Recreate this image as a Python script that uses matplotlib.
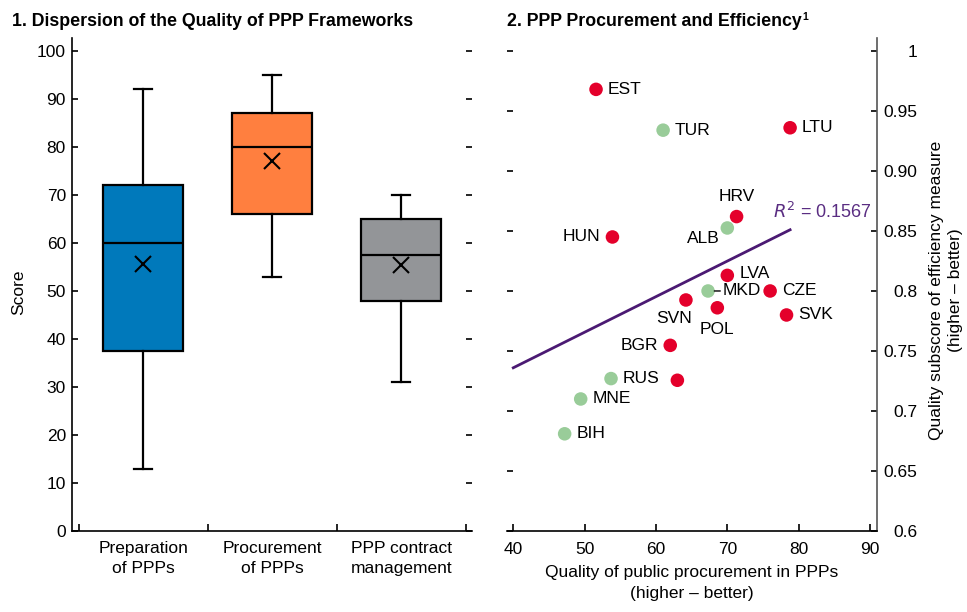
import matplotlib
matplotlib.use("Agg")
import matplotlib.pyplot as plt

plt.rcParams['font.family'] = ['Liberation Sans', 'DejaVu Sans']

# ---------------- data ----------------
box_labels = ["Preparation\nof PPPs", "Procurement\nof PPPs", "PPP contract\nmanagement"]
box_whislo = [13, 53, 31]
box_q1 = [37.5, 66, 48]
box_med = [60, 80, 57.5]
box_q3 = [72, 87, 65]
box_whishi = [92, 95, 70]
box_mean = [55.7, 77, 55.4]
box_colors = ["#0079BB", "#FF7F3F", "#939598"]
left_yticks = [0, 10, 20, 30, 40, 50, 60, 70, 80, 90, 100]

countries = ["EST", "TUR", "LTU", "HRV", "ALB", "HUN", "LVA", "MKD", "CZE",
             "SVN", "POL", "SVK", "BGR", "RUS", "", "MNE", "BIH"]
proc_x = [51.6, 61.0, 78.8, 71.3, 70.0, 53.9, 70.0, 67.3, 76.0,
          64.2, 68.6, 78.3, 62.0, 53.7, 63.0, 49.45, 47.2]
eff_y = [0.968, 0.934, 0.936, 0.862, 0.8525, 0.845, 0.813, 0.800, 0.800,
         0.7925, 0.786, 0.780, 0.7547, 0.727, 0.7256, 0.710, 0.681]
group = ["eu", "non", "eu", "eu", "non", "eu", "eu", "non", "eu",
         "eu", "eu", "eu", "eu", "non", "eu", "non", "non"]
trend_x = [40, 78.8]
trend_y = [0.736, 0.851]
r2_text = "0.1567"
right_xticks = [40, 50, 60, 70, 80, 90]
right_yticks = [0.6, 0.65, 0.7, 0.75, 0.8, 0.85, 0.9, 0.95, 1.0]
right_yticklabels = ["0.6", "0.65", "0.7", "0.75", "0.8", "0.85", "0.90", "0.95", "1"]

# label placement (offset in pixels, alignment)
label_pos = {
    "EST": (12, 0, "left", "center"),
    "TUR": (12, 0, "left", "center"),
    "LTU": (12, 0, "left", "center"),
    "HRV": (0, 20, "center", "center"),
    "ALB": (-8, -11, "right", "center"),
    "HUN": (-12, 0, "right", "center"),
    "LVA": (12, 2, "left", "center"),
    "MKD": (15, 0, "left", "center"),
    "CZE": (12, 0, "left", "center"),
    "SVN": (-12, -19, "center", "center"),
    "POL": (0, -22, "center", "center"),
    "SVK": (12, 0, "left", "center"),
    "BGR": (-12, 0, "right", "center"),
    "RUS": (12, 0, "left", "center"),
    "MNE": (12, 0, "left", "center"),
    "BIH": (12, 0, "left", "center"),
}

W, H = 967, 612
fig = plt.figure(figsize=(W / 100, H / 100), dpi=100)

def fx(px):
    return px / W

def fy(py):
    return 1 - py / H

top_px, bot_px = 38, 531
ax1 = fig.add_axes([fx(71.5), fy(bot_px), fx(472 - 71.5), (bot_px - top_px) / H])
ax2 = fig.add_axes([fx(507), fy(bot_px), fx(877 - 507), (bot_px - top_px) / H])

FS = 12.5
# ---------------- left panel ----------------
stats = []
for i in range(3):
    stats.append(dict(med=box_med[i], q1=box_q1[i], q3=box_q3[i],
                      whislo=box_whislo[i], whishi=box_whishi[i],
                      mean=box_mean[i], fliers=[], label=box_labels[i]))
bp = ax1.bxp(stats, positions=[0, 1, 2], widths=0.62, capwidths=0.14,
             patch_artist=True, showmeans=True, showfliers=False,
             boxprops=dict(linewidth=1.6, edgecolor="black"),
             medianprops=dict(color="black", linewidth=1.6),
             whiskerprops=dict(color="black", linewidth=1.6),
             capprops=dict(color="black", linewidth=1.6),
             meanprops=dict(marker="x", markeredgecolor="black", markersize=11,
                            markeredgewidth=1.5, linestyle="none"))
for patch, c in zip(bp["boxes"], box_colors):
    patch.set_facecolor(c)

ax1.set_xlim(-0.555, 2.549)
ax1.set_ylim(0, 102.7)
ax1.set_yticks(left_yticks)
ax1.set_yticklabels([str(v) for v in left_yticks])
ax1.set_xticks([0, 1, 2])
ax1.set_xticklabels(box_labels, fontsize=FS, linespacing=1.45)
ax1.set_xticks([-0.5, 0.5, 1.5, 2.5], minor=True)
ax1.tick_params(axis="x", which="major", length=0, pad=7)
ax1.tick_params(axis="x", which="minor", direction="in", length=5, width=1.2)
ax1.tick_params(axis="y", direction="in", length=4.5, width=1.2, left=True,
                right=True, labelsize=FS, pad=4)
for s in ["top", "right"]:
    ax1.spines[s].set_visible(False)
for s in ["left", "bottom"]:
    ax1.spines[s].set_linewidth(1.2)
fig.text(fx(19), fy(292), "Score", rotation=90, ha="center", va="center", fontsize=FS)

# ---------------- right panel ----------------
col = {"eu": "#E4002B", "non": "#99CC99"}
for xv, yv, g in zip(proc_x, eff_y, group):
    ax2.scatter([xv], [yv], s=95, color=col[g], edgecolors="none", zorder=3)
for name, xv, yv in zip(countries, proc_x, eff_y):
    if not name:
        continue
    dx, dy, ha, va = label_pos[name]
    if name == "MKD":
        ax2.annotate(name, (xv, yv), xytext=(dx, dy), textcoords="offset pixels",
                     ha=ha, va=va, fontsize=FS,
                     arrowprops=dict(arrowstyle="-", color="black", lw=1,
                                     shrinkA=0, shrinkB=4.5))
    else:
        ax2.annotate(name, (xv, yv), xytext=(dx, dy), textcoords="offset pixels",
                     ha=ha, va=va, fontsize=FS)

ax2.plot(trend_x, trend_y, color="#4B1A73", linewidth=2, zorder=2)
ax2.text(90.3, 0.866, r"$R^2$ = " + r2_text, ha="right", va="center",
         fontsize=FS + 0.5, color="#5A2D82")

ax2.set_xlim(39.12, 90.98)
ax2.set_ylim(0.6, 1.0108)
ax2.set_xticks(right_xticks)
ax2.set_xticklabels([str(v) for v in right_xticks])
ax2.set_yticks(right_yticks)
ax2.set_yticklabels(right_yticklabels)
ax2.tick_params(axis="x", direction="in", length=5, width=1.2, labelsize=FS, pad=8)
ax2.tick_params(axis="y", direction="in", length=4.5, width=1.2, left=True,
                right=True, labelleft=False, labelright=True, labelsize=FS, pad=28.8)
for lab in ax2.get_yticklabels():
    lab.set_horizontalalignment("right")
for s in ["top", "left"]:
    ax2.spines[s].set_visible(False)
ax2.spines["right"].set_color("#555555")
ax2.spines["right"].set_linewidth(1.2)
ax2.spines["bottom"].set_linewidth(1.2)
ax2.set_xlabel("Quality of public procurement in PPPs\n(higher \u2013 better)",
               fontsize=FS, labelpad=6, linespacing=1.45)
fig.text(fx(946), fy(290), "Quality subscore of efficiency measure\n(higher \u2013 better)",
         rotation=90, ha="center", va="center", fontsize=FS, multialignment="center",
         linespacing=1.4)

# ---------------- titles ----------------
fig.text(fx(12), fy(21), "1. Dispersion of the Quality of PPP Frameworks",
         ha="left", va="center", fontsize=12.8, fontweight="bold")
t2 = fig.text(fx(507), fy(21), "2. PPP Procurement and Efficiency",
              ha="left", va="center", fontsize=12.8, fontweight="bold")
ax2.annotate("1", xy=(1, 1), xycoords=t2, xytext=(0.5, 0), textcoords="offset points",
             ha="left", va="top", fontsize=7.5, fontweight="bold", annotation_clip=False)

fig.savefig("out.png", dpi=100)
